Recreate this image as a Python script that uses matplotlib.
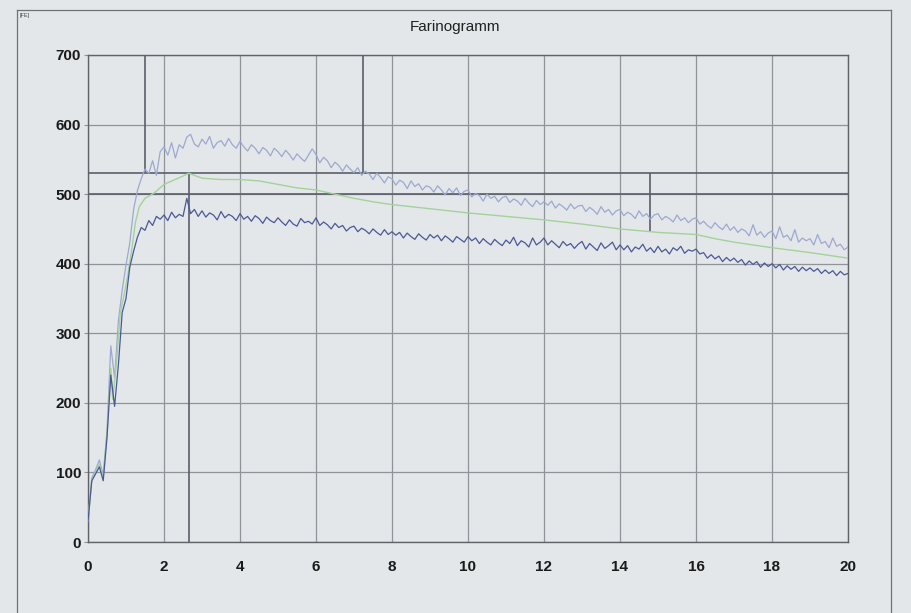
import matplotlib
matplotlib.use("Agg")
import matplotlib.pyplot as plt
import numpy as np

# time axis of the two noisy traces (minutes, 0.1 step)
T_STEP = 0.1
UPPER = [
    30, 92, 104, 118, 96, 160, 282, 236, 318, 362,
    398, 430, 478, 505, 522, 536, 530, 548, 527, 561,
    568, 556, 574, 552, 571, 566, 582, 586, 572, 568,
    579, 572, 583, 566, 574, 577, 569, 580, 571, 566,
    576, 568, 562, 571, 566, 558, 567, 563, 555, 566,
    561, 554, 563, 557, 549, 558, 552, 547, 556, 565,
    557, 545, 553, 548, 538, 546, 541, 533, 542, 536,
    531, 538, 527, 533, 529, 521, 530, 524, 516, 525,
    522, 513, 520, 517, 508, 519, 511, 515, 506, 512,
    510, 503, 512, 506, 499, 508, 502, 509, 498, 504,
    506, 496, 501, 498, 490, 500, 494, 497, 489, 495,
    497, 488, 493, 490, 484, 494, 487, 482, 491, 485,
    489, 484, 490, 480, 486, 482, 477, 486, 479, 483,
    484, 475, 481, 477, 471, 482, 474, 478, 470, 476,
    478, 469, 474, 471, 465, 476, 468, 472, 464, 470,
    472, 463, 468, 465, 460, 470, 462, 466, 459, 464,
    466, 457, 461, 455, 451, 459, 453, 449, 457, 448,
    453, 445, 450, 447, 440, 456, 441, 446, 438, 444,
    447, 436, 453, 438, 441, 433, 449, 431, 437, 433,
    436, 427, 442, 429, 432, 423, 437, 425, 428, 420,
    424,
]
LOWER = [
    30, 88, 98, 108, 88, 150, 240, 195, 255, 330,
    350, 395, 418, 438, 452, 448, 462, 455, 468, 464,
    470, 462, 474, 466, 471, 468, 494, 472, 478, 468,
    476, 467, 473, 470, 463, 475, 466, 471, 468, 462,
    472, 464, 468, 461, 469, 465, 458, 467, 462, 459,
    466, 460, 455, 463, 457, 454, 465, 459, 461, 457,
    466, 455, 460, 456, 450, 458, 452, 455, 447, 452,
    454, 446, 451, 448, 443, 450, 445, 441, 449, 442,
    446, 441, 445, 437, 444, 439, 435, 443, 438, 434,
    442, 437, 441, 433, 440, 436, 431, 439, 435, 431,
    439, 433, 437, 429, 436, 431, 427, 435, 430, 426,
    434, 429, 438, 426, 433, 430, 424, 437, 427, 431,
    437, 427, 433, 428, 423, 432, 426, 429, 422, 428,
    432, 421, 429, 424, 419, 430, 422, 426, 431, 420,
    427, 420, 426, 417, 424, 421, 428, 418, 423, 416,
    425, 417, 421, 414, 423, 419, 425, 415, 420, 418,
    421, 414, 416, 408, 413, 407, 411, 403, 409, 404,
    408, 402, 406, 398, 404, 399, 403, 395, 401, 396,
    400, 394, 399, 391, 397, 392, 396, 389, 395, 390,
    394, 389, 393, 386, 391, 386, 390, 383, 389, 384,
    386,
]

# smooth mean curve
MEAN_T = [0, 0.1, 0.2, 0.3, 0.4, 0.5, 0.6, 0.65, 0.75, 0.85, 0.95, 1.05, 1.15,
          1.25, 1.35, 1.5, 1.75, 2.0, 2.25, 2.5, 2.65, 3.0, 3.5, 4.0, 4.5, 5.0,
          5.5, 6.0, 6.5, 7.0, 7.5, 8.0, 9.0, 10.0, 11.0, 12.0, 13.0, 14.0, 15.0,
          16.0, 16.5, 17.0, 18.0, 19.0, 20.0]
MEAN_V = [30, 90, 100, 112, 92, 155, 250, 205, 258, 330, 355, 385, 420,
          460, 482, 494, 502, 514, 520, 526, 530, 523, 521, 521, 519, 514,
          509, 506, 500, 494, 489, 485, 479, 473, 468, 463, 457, 450, 445,
          442, 436, 431, 423, 416, 408]

# evaluation marks
H_LINES = [500, 530]
DEV_TIME = 2.65          # peak, drawn from 0 up to the 530 line
ARRIVAL = 1.5            # from the 530 line to the top
DEPARTURE = 7.25         # from the 530 line to the top
SOFT_T, SOFT_V = 14.8, 445

XTICKS = list(range(0, 21, 2))
YTICKS = list(range(0, 701, 100))

BG = "#e3e7e9"
FONT = ["Liberation Sans", "DejaVu Sans"]


def main():
    plt.rcParams["font.family"] = FONT
    fig = plt.figure(figsize=(9.12, 6.13), dpi=100, facecolor=BG)

    # outer frame of the printout
    frame = fig.add_axes([17 / 912, -0.05, (891 - 17) / 912, 1.05 - 10 / 613])
    frame.set_xticks([]); frame.set_yticks([])
    for s in frame.spines.values():
        s.set_color("#6f7378"); s.set_linewidth(0.9)
    frame.patch.set_alpha(0)

    fig.text(455 / 912, 1 - 27 / 613, "Farinogramm", ha="center", va="center",
             fontsize=11, color="#202020")
    fig.text(20 / 912, 1 - 15 / 613, "[FE]", ha="left", va="center",
             fontsize=4, color="#404040")

    ax = fig.add_axes([88 / 912, 1 - 542 / 613, 760 / 912, (542 - 55) / 613])
    ax.set_facecolor(BG)
    ax.set_xlim(0, 20); ax.set_ylim(0, 700)
    ax.set_xticks(XTICKS); ax.set_yticks(YTICKS)
    ax.grid(True, color="#8f9499", lw=0.9)
    ax.set_axisbelow(True)
    for s in ax.spines.values():
        s.set_color("#5f6368"); s.set_linewidth(1.0)
    ax.tick_params(axis="y", length=3, pad=2, color="#8f9499",
                   labelsize=11, labelcolor="#1a1a1a")
    ax.tick_params(axis="x", length=0, pad=13,
                   labelsize=11, labelcolor="#1a1a1a")
    for lab in ax.get_xticklabels() + ax.get_yticklabels():
        lab.set_fontweight("bold")

    mark = dict(color="#5a5f6a", lw=1.2, zorder=2)
    for v in H_LINES:
        ax.axhline(v, **mark)
    ax.vlines(DEV_TIME, 0, 530, **mark)
    ax.vlines([ARRIVAL, DEPARTURE], 530, 700, **mark)
    ax.vlines(SOFT_T, SOFT_V, 530, **mark)

    t = np.arange(len(UPPER)) * T_STEP
    ax.plot(t, UPPER, color="#9ea8d0", lw=0.9, zorder=3)
    ax.plot(MEAN_T, MEAN_V, color="#a3d29a", lw=1.0, zorder=3)
    ax.plot(t, LOWER, color="#4b5896", lw=0.9, zorder=3)

    fig.savefig("out.png", dpi=100, facecolor=BG)


if __name__ == "__main__":
    main()
